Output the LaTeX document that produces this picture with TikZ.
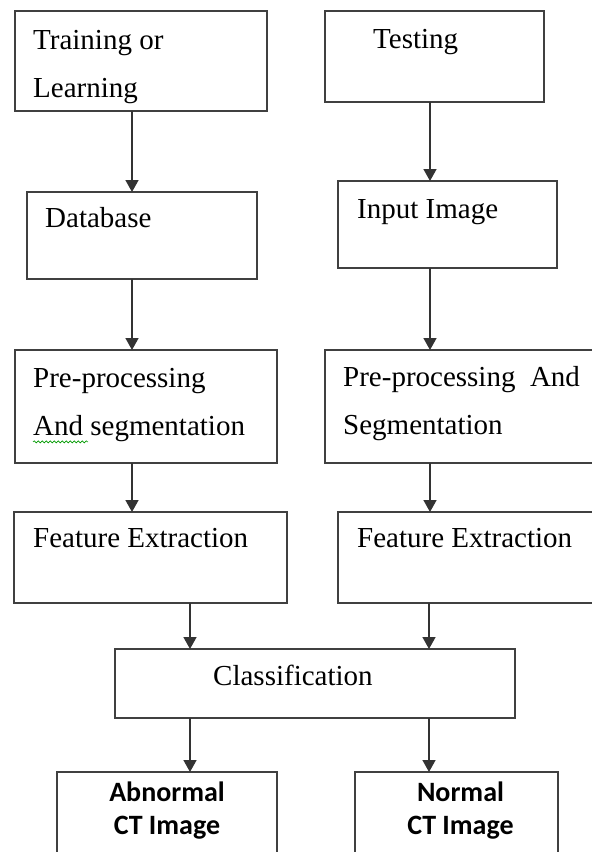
\documentclass[tikz,border=0pt]{standalone}
\usepackage{fontspec}
\setmainfont{Liberation Serif}
\newfontfamily\calibrifont{Carlito}
\usetikzlibrary{arrows.meta,positioning,decorations.pathmorphing}

\begin{document}
\begin{tikzpicture}[x=1pt,y=-1pt,
    box/.style={draw=black!75,line width=1.6pt,anchor=north west,
                inner sep=0pt,outer sep=0pt},
    txt/.style={inner sep=0pt,align=left,font=\fontsize{29}{48}\selectfont},
    res/.style={inner sep=0pt,align=center,
                font=\calibrifont\bfseries\fontsize{28}{33}\selectfont},
    arr/.style={-{Triangle[width=13pt,length=12pt]},line width=1.6pt,draw=black!80},
    squig/.style={draw=green!60!black,line width=0.6pt,decorate,
                  decoration={snake,amplitude=1pt,segment length=4pt}},
  ]
    \useasboundingbox (0,0) rectangle (592,852);
    \clip (0,0) rectangle (592,852);
    % boxes
    \node[box,minimum width=252pt,minimum height=100pt] (train) at (15,11)  {};
    \node[box,minimum width=219pt,minimum height=91pt]  (test)  at (325,11) {};
    \node[box,minimum width=230pt,minimum height=87pt]  (db)    at (27,192) {};
    \node[box,minimum width=219pt,minimum height=87pt]  (input) at (338,181) {};
    \node[box,minimum width=262pt,minimum height=113pt] (pre1)  at (15,350) {};
    \node[box,minimum width=280pt,minimum height=113pt] (pre2)  at (325,350) {};
    \node[box,minimum width=273pt,minimum height=91pt]  (feat1) at (14,512) {};
    \node[box,minimum width=270pt,minimum height=91pt]  (feat2) at (338,512) {};
    \node[box,minimum width=400pt,minimum height=69pt]  (class) at (115,649) {};
    \node[box,minimum width=220pt,minimum height=100pt] (abn)   at (57,772) {};
    \node[box,minimum width=203pt,minimum height=100pt] (norm)  at (355,772) {};
    % texts
    \node[txt,below right=19pt and 18pt of train.north west] (trainT) {Training or\\Learning};
    \node[txt,below right=18pt and 48pt of test.north west]  (testT)  {Testing};
    \node[txt,below right=15pt and 18pt of db.north west]    (dbT)    {Database};
    \node[txt,below right=18pt and 19pt of input.north west] (inputT) {Input Image};
    \node[txt,below right=18pt and 18pt of pre1.north west]  (pre1T)  {Pre-processing\\And segmentation};
    \node[txt,below right=16pt and 18pt of pre2.north west]  (pre2T)  {Pre-processing\ \ And\\Segmentation};
    \node[txt,below right=16pt and 19pt of feat1.north west] (feat1T) {Feature Extraction};
    \node[txt,below right=16pt and 19pt of feat2.north west] (feat2T) {Feature Extraction};
    \node[txt,below right=16pt and 98pt of class.north west] (classT) {Classification};
    \node[res,below=10pt of abn.north]                       (abnT)   {Abnormal\\CT Image};
    \node[res,below=10pt of norm.north,xshift=4pt]           (normT)  {Normal\\CT Image};
    \draw[squig] (pre1T.south west) -- ++(55,0);
    % arrow columns
    \coordinate (colL)  at (132,0);
    \coordinate (colR)  at (430,0);
    \coordinate (colCL) at (190,0);
    \coordinate (colCR) at (429,0);
    \draw[arr] (train.south -| colL) -- (db.north -| colL);
    \draw[arr] (test.south -| colR)  -- (input.north -| colR);
    \draw[arr] (db.south -| colL)    -- (pre1.north -| colL);
    \draw[arr] (input.south -| colR) -- (pre2.north -| colR);
    \draw[arr] (pre1.south -| colL)  -- (feat1.north -| colL);
    \draw[arr] (pre2.south -| colR)  -- (feat2.north -| colR);
    \draw[arr] (feat1.south -| colCL) -- (class.north -| colCL);
    \draw[arr] (feat2.south -| colCR) -- (class.north -| colCR);
    \draw[arr] (class.south -| colCL) -- (abn.north -| colCL);
    \draw[arr] (class.south -| colCR) -- (norm.north -| colCR);
  \end{tikzpicture}
\end{document}
